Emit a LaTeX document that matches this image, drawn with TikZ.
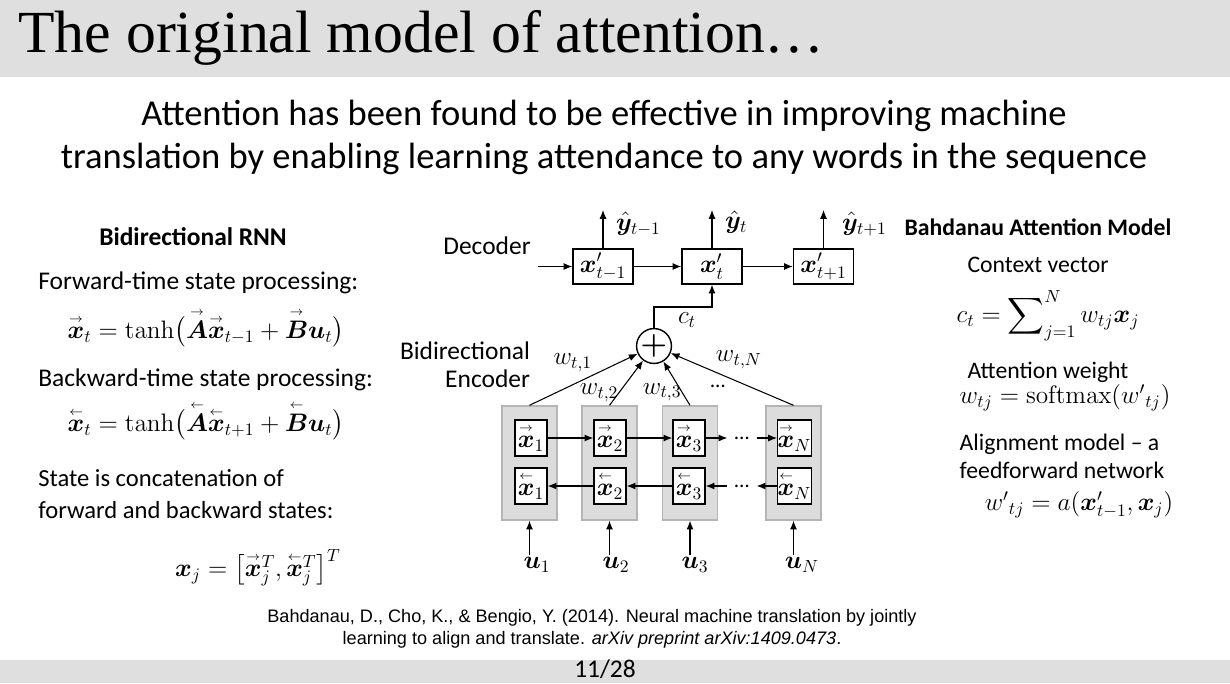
\documentclass[tikz,border=0pt]{standalone}
\usepackage{amsmath, amssymb}
\usepackage{bm}
\usepackage[no-math]{fontspec}
\setmainfont{Carlito}
\newfontfamily\titlefont{Liberation Serif}
\newfontfamily\citefont{Liberation Sans}
\usepackage{xcolor}
\usetikzlibrary{arrows.meta, positioning, calc}

\definecolor{bandgray}{HTML}{DFDFDF}
\definecolor{colgray}{HTML}{DCDCDC}
\definecolor{colline}{HTML}{B5B5B5}

\newcommand{\fwd}[1]{\overset{\scriptscriptstyle\rightarrow}{\bm{#1}}}
\newcommand{\bwd}[1]{\overset{\scriptscriptstyle\leftarrow}{\bm{#1}}}

\begin{document}
\begin{tikzpicture}[x=0.02cm, y=-0.02cm,
        module/.style={rectangle, draw, thick, minimum width=1.2cm, minimum height=0.7cm, inner sep=0pt, font=\fontsize{14}{14}\selectfont},
        cell/.style={rectangle, draw, thick, fill=white, minimum width=0.64cm, minimum height=0.72cm, inner sep=0pt, font=\fontsize{14}{14}\selectfont},
        column/.style={rectangle, draw=colline, thick, fill=colgray, minimum width=1.1cm, minimum height=2.28cm, inner sep=0pt},
        arrow/.style={-{Latex[length=5pt,width=4pt]}, semithick, draw=black},
        body/.style={inner sep=0pt, font=\fontsize{14.5}{18}\selectfont},
        side/.style={inner sep=0pt, font=\fontsize{13.5}{16}\selectfont},
        eqn/.style={inner sep=0pt, font=\fontsize{14.5}{18}\selectfont},
        wlabel/.style={inner sep=1pt, font=\fontsize{14}{14}\selectfont}
    ]
    \useasboundingbox (0,0) rectangle (1230,683);

    % Bands and headings
    \fill[bandgray] (0,0) rectangle (1230,77);
    \fill[bandgray] (0,660) rectangle (1230,683);
    \node[anchor=base west, inner sep=0pt, font=\titlefont\fontsize{34}{34}\selectfont] (title) at (18,52) {The original model of attention…};
    \node[align=center, inner sep=0pt, font=\fontsize{20.8}{24.5}\selectfont] (intro) at (604,137) {Attention has been found to be effective in improving machine\\translation by enabling learning attendance to any words in the sequence};
    \node[anchor=base, inner sep=0pt, font=\fontsize{14.5}{15}\selectfont] (page) at (605,677) {11/28};

    % Left column: bidirectional RNN
    \node[body, font=\bfseries\fontsize{14.5}{18}\selectfont] (rnnhead) at (193,237) {Bidirectional RNN};
    \node[body, anchor=west] (fwtext) at (38,283) {Forward-time state processing:};
    \node[eqn] (fweq) at (206,328) {$\fwd{x}_t = \tanh\bigl(\fwd{A}\fwd{x}_{t-1} + \fwd{B}\bm{u}_t\bigr)$};
    \node[body, anchor=west] (bwtext) at (38,380) {Backward-time state processing:};
    \node[eqn] (bweq) at (206,421) {$\bwd{x}_t = \tanh\bigl(\bwd{A}\bwd{x}_{t+1} + \bwd{B}\bm{u}_t\bigr)$};
    \node[body, anchor=west, align=left, font=\fontsize{14}{18.2}\selectfont] (cattext) at (38,494) {State is concatenation of\\forward and backward states:};
    \node[eqn] (cateq) at (258,568) {$\bm{x}_j = \bigl[\smash[t]{\fwd{x}}_j^T, \smash[t]{\bwd{x}}_j^T\bigr]^T$};

    % Right column: Bahdanau attention
    \node[side, font=\bfseries\fontsize{13.5}{16}\selectfont] (bahhead) at (1038,227) {Bahdanau Attention Model};
    \node[side] (ctxtext) at (1038,265) {Context vector};
    \node[eqn] (ctxeq) at (1048,316) {$c_t = \displaystyle\sum\nolimits_{j=1}^{N} w_{tj}\bm{x}_j$};
    \node[side] (wtext) at (1048,372) {Attention weight};
    \node[eqn] (weq) at (1065,398) {$w_{tj} = \operatorname{softmax}({w'}_{tj})$};
    \node[side, align=left] (aligntext) at (1062,456) {Alignment model – a\\feedforward network};
    \node[eqn, font=\fontsize{14}{18}\selectfont] (aligneq) at (1079,505) {${w'}_{tj} = a(\bm{x}'_{t-1}, \bm{x}_j)$};

    % Decoder
    \node[body] (declabel) at (487,246) {Decoder};
    \node[module] (dec1) at (603,266.5) {$\bm{x}'_{t-1}$};
    \node[module] (dec2) at (712,266.5) {$\bm{x}'_{t}$};
    \node[module] (dec3) at (823.5,266.5) {$\bm{x}'_{t+1}$};
    \coordinate (decin) at (538,266.5);
    \coordinate (out1) at (603,210);
    \coordinate (out2) at (712,210);
    \coordinate (out3) at (823.5,210);
    \node[wlabel, anchor=west] (yhat1) at (614,224) {$\hat{\bm{y}}_{t-1}$};
    \node[wlabel, anchor=west] (yhat2) at (723,222) {$\hat{\bm{y}}_{t}$};
    \node[wlabel, anchor=west] (yhat3) at (840,224) {$\hat{\bm{y}}_{t+1}$};

    \draw[arrow] (decin) -- (dec1);
    \draw[arrow] (dec1) -- (dec2);
    \draw[arrow] (dec2) -- (dec3);
    \draw[arrow] (dec1) -- (out1);
    \draw[arrow] (dec2) -- (out2);
    \draw[arrow] (dec3) -- (out3);

    % Attention sum
    \node[circle, draw, thick, minimum size=0.6cm, inner sep=0pt, font=\fontsize{16}{16}\selectfont] (plus) at (654,346) {$\bm{+}$};
    \coordinate (ctbend) at (654,307);
    \draw[arrow] (plus) -- (ctbend) -| (dec2);
    \node[wlabel] (ctlabel) at (687,320) {$c_t$};

    % Encoder
    \node[body, align=right, font=\fontsize{14.5}{16}\selectfont] (enclabel) at (465,365) {Bidirectional\\Encoder};
    \node[column] (col1) at (529.5,463) {};
    \node[column] (col2) at (609.5,463) {};
    \node[column] (col3) at (690,463) {};
    \node[column] (col4) at (793.5,463) {};

    \node[cell] (fw1) at (531,438) {$\fwd{x}_1$};
    \node[cell] (fw2) at (610,438) {$\fwd{x}_2$};
    \node[cell] (fw3) at (689,438) {$\fwd{x}_3$};
    \node[cell] (fwN) at (794.5,438) {$\fwd{x}_N$};
    \node[cell] (bw1) at (531,486) {$\bwd{x}_1$};
    \node[cell] (bw2) at (610,486) {$\bwd{x}_2$};
    \node[cell] (bw3) at (689,486) {$\bwd{x}_3$};
    \node[cell] (bwN) at (794.5,486) {$\bwd{x}_N$};
    \node[inner xsep=4pt, inner ysep=1pt, font=\fontsize{12}{12}\selectfont] (fwdots) at (742,438) {…};
    \node[inner xsep=4pt, inner ysep=1pt, font=\fontsize{12}{12}\selectfont] (bwdots) at (742,486) {…};

    \draw[arrow] (fw1) -- (fw2);
    \draw[arrow] (fw2) -- (fw3);
    \draw[arrow] (fw3) -- (fwdots);
    \draw[arrow] (fwdots) -- (fwN);
    \draw[arrow] (bwN) -- (bwdots);
    \draw[arrow] (bwdots) -- (bw3);
    \draw[arrow] (bw3) -- (bw2);
    \draw[arrow] (bw2) -- (bw1);

    % Inputs
    \node[wlabel] (u1) at (537,565) {$\bm{u}_1$};
    \node[wlabel] (u2) at (616,565) {$\bm{u}_2$};
    \node[wlabel] (u3) at (695,565) {$\bm{u}_3$};
    \node[wlabel] (uN) at (802,565) {$\bm{u}_N$};
    \draw[arrow] (col1.south |- u1.north) -- (col1.south);
    \draw[arrow] (col2.south |- u2.north) -- (col2.south);
    \draw[arrow] (col3.south |- u3.north) -- (col3.south);
    \draw[arrow] (col4.south |- uN.north) -- (col4.south);

    % Attention weights
    \draw[arrow] (col1.north) -- node[wlabel, pos=0.6, above left=0pt] {$w_{t,1}$} (plus);
    \draw[arrow] (col2.north) -- node[wlabel, pos=0.28, left=-1pt] {$w_{t,2}$} (plus);
    \draw[arrow] (col3.north) -- node[wlabel, pos=0.3, left=-1pt] {$w_{t,3}$} (plus);
    \draw[arrow] (col4.north) -- node[wlabel, pos=0.65, above right=0pt] {$w_{t,N}$} (plus);
    \node[font=\fontsize{12}{12}\selectfont, inner sep=0pt] (wdots) at (718,386) {…};

    % Reference
    \node[align=center, inner sep=0pt, font=\citefont\fontsize{10.3}{12.5}\selectfont] (cite) at (592,629) {Bahdanau, D., Cho, K., \& Bengio, Y. (2014). Neural machine translation by jointly\\learning to align and translate. \textit{arXiv preprint arXiv:1409.0473}.};
\end{tikzpicture}
\end{document}
